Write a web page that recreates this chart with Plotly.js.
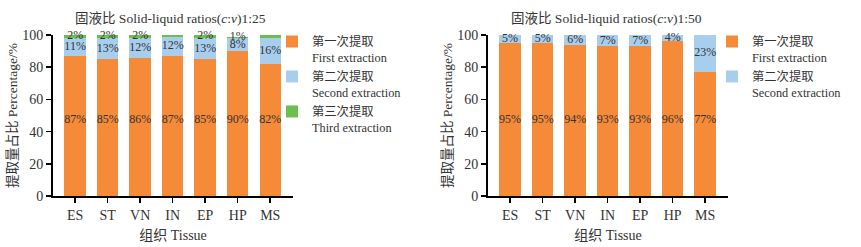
<!DOCTYPE html>
<html>
<head>
<meta charset="utf-8">
<script src="https://cdn.plot.ly/plotly-3.0.1.min.js"></script>
<style>html,body{margin:0;padding:0;background:#fff;}#chart{width:861px;height:247px;}</style>
</head>
<body>
<div id="chart"></div>
<script>
const tissues = ['ES', 'ST', 'VN', 'IN', 'EP', 'HP', 'MS'];
// Solid-liquid ratio 1:25
const first25 = [87, 85, 86, 87, 85, 90, 82];
const second25 = [11, 13, 12, 12, 13, 8, 16];
const third25 = [2, 2, 2, 2, 2, 1, 2];
const third25Labels = ['2%', '2%', '2%', '2%', '2%', '1%', ''];
// Solid-liquid ratio 1:50
const first50 = [95, 95, 94, 93, 93, 96, 77];
const second50 = [5, 5, 6, 7, 7, 4, 23];

const seriesNames = ['第一次提取<br>First extraction', '第二次提取<br>Second extraction', '第三次提取<br>Third extraction'];
const colors = ['#F58A38', '#A8CEEE', '#6CBF4C'];

const FONT = 'Liberation Serif, Noto Sans CJK SC';
const pct = a => a.map(v => v + '%');
const labelFirstY = 47;

function bar(y, name, color, xa, ya, legend, show) {
  return {type: 'bar', x: tissues, y: y, name: name, marker: {color: color, line: {width: 0}},
    xaxis: xa, yaxis: ya, legend: legend, showlegend: show, hoverinfo: 'skip'};
}
function labels(yPos, text, xa, ya) {
  return {type: 'scatter', mode: 'text', x: tissues, y: yPos, text: text, xaxis: xa, yaxis: ya,
    textfont: {family: FONT, size: 12, color: '#333'}, showlegend: false, hoverinfo: 'skip', cliponaxis: false};
}

const mid2_25 = first25.map((f, i) => f + second25[i] / 2);
const mid3_25 = first25.map((f, i) => f + second25[i] + third25[i] / 2 + 0.5);
const mid2_50 = first50.map((f, i) => f + second50[i] / 2);
const firstPos = tissues.map(() => labelFirstY);

const data = [
  bar(first25, seriesNames[0], colors[0], 'x', 'y', 'legend', true),
  bar(second25, seriesNames[1], colors[1], 'x', 'y', 'legend', true),
  bar(third25, seriesNames[2], colors[2], 'x', 'y', 'legend', true),
  labels(firstPos, pct(first25), 'x', 'y'),
  labels(mid2_25, pct(second25), 'x', 'y'),
  labels(mid3_25, third25Labels, 'x', 'y'),
  bar(first50, seriesNames[0], colors[0], 'x2', 'y2', 'legend2', true),
  bar(second50, seriesNames[1], colors[1], 'x2', 'y2', 'legend2', true),
  labels(firstPos, pct(first50), 'x2', 'y2'),
  labels(mid2_50, pct(second50), 'x2', 'y2')
];

function xax(domain, anchor) {
  return {domain: domain, anchor: anchor, range: [-0.68, 6.7], showline: true, linecolor: '#000', linewidth: 2,
    ticks: 'outside', ticklen: 5, tickwidth: 1.5, tickcolor: '#000', showgrid: false, zeroline: false,
    tickfont: {family: FONT, size: 14, color: '#333'},
    title: {text: '组织 Tissue', font: {family: FONT, size: 14, color: '#333'}, standoff: 8}};
}
function yax(domain, anchor) {
  return {domain: domain, anchor: anchor, range: [0, 100], tickvals: [0, 20, 40, 60, 80, 100],
    showline: true, linecolor: '#000', linewidth: 2, ticks: 'outside', ticklen: 5, tickwidth: 1.5, tickcolor: '#000',
    showgrid: false, zeroline: false, tickfont: {family: FONT, size: 14, color: '#333'},
    title: {text: '提取量占比 Percentage/%', font: {family: FONT, size: 13.5, color: '#333'}, standoff: 1}};
}
const legendBase = {font: {family: FONT, size: 12.3, color: '#333'}, bgcolor: 'rgba(0,0,0,0)', valign: 'top',
  yanchor: 'top', xanchor: 'left', tracegroupgap: 0, traceorder: 'normal', itemclick: false, itemdoubleclick: false};

const layout = {
  width: 861, height: 247, margin: {l: 0, r: 0, t: 0, b: 0}, paper_bgcolor: '#fff', plot_bgcolor: '#fff',
  barmode: 'stack', bargap: 0.34,
  xaxis: xax([0.0616, 0.3403], 'y'),
  yaxis: yax([0.2065, 0.8583], 'x'),
  xaxis2: xax([0.5668, 0.8455], 'y2'),
  yaxis2: yax([0.2065, 0.8583], 'x2'),
  legend: Object.assign({}, legendBase, {x: 272 / 861, y: 1 - 27 / 247}),
  legend2: Object.assign({}, legendBase, {x: 712 / 861, y: 1 - 27 / 247}),
  annotations: [
    {text: '固液比 Solid-liquid ratios(<i>c</i>:<i>v</i>)1:25', x: 170 / 861, y: 1 - 18 / 247, xref: 'paper', yref: 'paper',
      showarrow: false, font: {family: FONT, size: 13.5, color: '#333'}, xanchor: 'center', yanchor: 'middle'},
    {text: '固液比 Solid-liquid ratios(<i>c</i>:<i>v</i>)1:50', x: 606 / 861, y: 1 - 18 / 247, xref: 'paper', yref: 'paper',
      showarrow: false, font: {family: FONT, size: 13.5, color: '#333'}, xanchor: 'center', yanchor: 'middle'}
  ],
  showlegend: true
};

Plotly.newPlot('chart', data, layout, {displayModeBar: false, staticPlot: true});
</script>
</body>
</html>
